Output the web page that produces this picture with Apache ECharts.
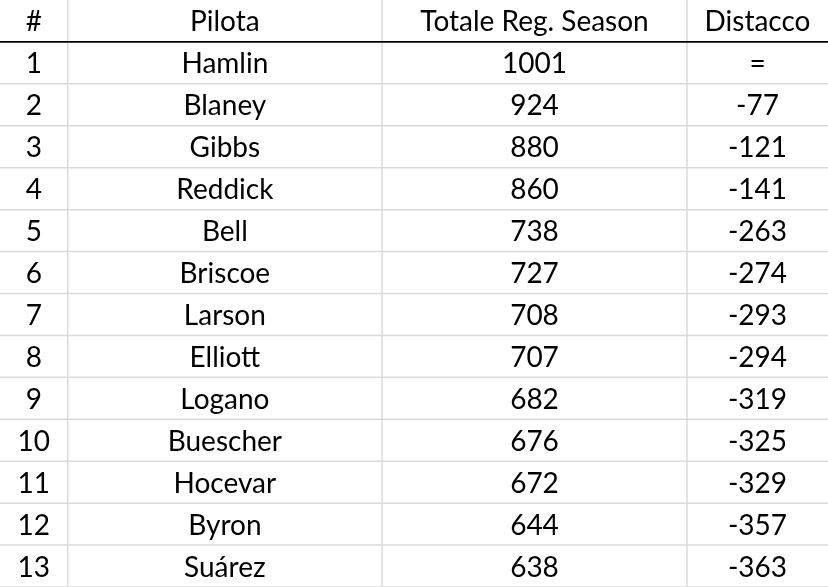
<!DOCTYPE html>
<html><head><meta charset="utf-8">
<script src="https://cdn.jsdelivr.net/npm/echarts@6/dist/echarts.min.js"></script>
<style>html,body{margin:0;padding:0;background:#fff}#c{width:828px;height:587px}</style>
</head><body><div id="c"></div>
<script>
const headers = ['#', 'Pilota', 'Totale Reg. Season', 'Distacco'];
const ranks = ['1','2','3','4','5','6','7','8','9','10','11','12','13'];
const drivers = ['Hamlin','Blaney','Gibbs','Reddick','Bell','Briscoe','Larson','Elliott','Logano','Buescher','Hocevar','Byron','Suárez'];
const totals = [1001, 924, 880, 860, 738, 727, 708, 707, 682, 676, 672, 644, 638];
const gaps = ['=', '-77', '-121', '-141', '-263', '-274', '-293', '-294', '-319', '-325', '-329', '-357', '-363'];

// layout (column boundaries in the x scale)
const colEdges = [0, 67.7, 382, 687, 828];

const rowLabels = ['header'].concat(ranks);
const rows = [headers].concat(ranks.map((r, i) => [r, drivers[i], String(totals[i]), gaps[i]]));

const chart = echarts.init(document.getElementById('c'));
chart.setOption({
  animation: false,
  backgroundColor: '#fff',
  grid: { left: 0, right: 0, top: 0, bottom: 0 },
  xAxis: { type: 'value', min: 0, max: 828, show: false },
  yAxis: { type: 'category', data: rowLabels, inverse: true, show: false },
  series: [{
    type: 'custom',
    data: rowLabels.map((_, i) => [0, i]),
    encode: { x: 0, y: 1 },
    renderItem: function (params, api) {
      const r = params.dataIndex;
      const cy = api.coord([0, r])[1];
      const h = api.size([0, 1])[1];
      const top = cy - h / 2, bottom = cy + h / 2;
      const xs = colEdges.map(e => api.coord([e, r])[0]);
      const children = [];
      // vertical grid lines
      for (let k = 1; k < xs.length - 1; k++) {
        children.push({ type: 'line', shape: { x1: xs[k], y1: top, x2: xs[k], y2: bottom },
          style: { stroke: '#dadada', lineWidth: 1.5 } });
      }
      // horizontal line under row
      children.push({ type: 'line', shape: { x1: 0, y1: bottom, x2: xs[xs.length - 1], y2: bottom },
        style: { stroke: r === 0 ? '#000' : '#dadada', lineWidth: r === 0 ? 1.8 : 1.5 }, z2: r === 0 ? 5 : 1 });
      // cell texts
      rows[r].forEach((t, k) => {
        children.push({ type: 'text', z2: 10, style: {
          text: t, x: (xs[k] + xs[k + 1]) / 2, y: cy + 1.5,
          align: 'center', verticalAlign: 'middle',
          fontFamily: 'Lato', fontSize: 28, fill: '#000'
        }});
      });
      return { type: 'group', children: children };
    }
  }]
});
</script></body></html>
